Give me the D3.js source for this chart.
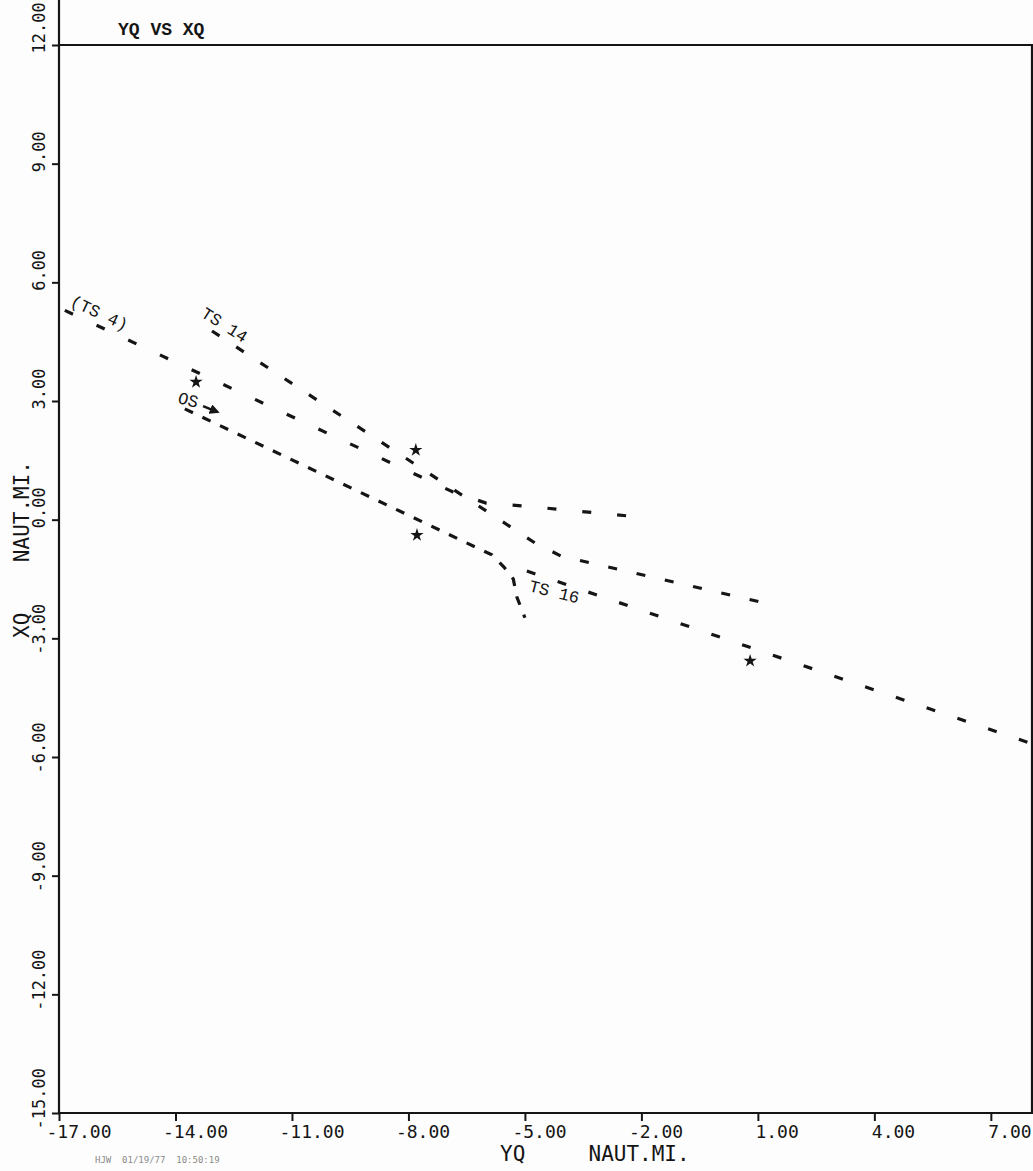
<!DOCTYPE html>
<html><head><meta charset="utf-8">
<script src="https://cdn.jsdelivr.net/npm/d3@7"></script>
<style>body{margin:0;background:#fff}svg{display:block}</style>
</head><body>
<script>
// ---- data (nautical miles) ----
const xTicks = [-17, -14, -11, -8, -5, -2, 1, 4, 7];
const yTicks = [-15, -12, -9, -6, -3, 0, 3, 6, 9, 12];
const trackTS4  = [[-16.85, 5.29], [-6.85, 0.70], [-6.00, 0.42], [-5.08, 0.35], [-2.30, 0.09]];
const trackTS14 = [[-13.06, 4.77], [-4.74, -0.59], [-4.07, -0.92], [-3.33, -1.09], [1.10, -2.09]];
const trackOS   = [[-13.76, 2.80], [-5.85, -0.89], [-5.54, -1.20], [-5.30, -1.50], [-5.21, -1.95], [-5.00, -2.48]];
const trackTS16 = [[-4.95, -1.30], [8.10, -5.68]];
const stars     = [[-13.47, 3.48], [-7.81, 1.76], [-7.78, -0.39], [0.80, -3.57]];
const annotations = [
  {text: "(TS 4)", x: -15.97, y: 5.20, angle: 25},
  {text: "TS 14",  x: -12.75, y: 4.90, angle: 32},
  {text: "TS 16",  x: -4.25,  y: -1.85, angle: 14},
  {text: "OS",     x: -13.68, y: 3.00, angle: 15}
];
const osArrow = [[-13.29, 2.87], [-12.91, 2.72]];
const title = "YQ VS XQ";
const xTitle = "YQ     NAUT.MI.";
const yTitle = "XQ    NAUT.MI.";
const footer = "HJW  01/19/77  10:50:19";

// ---- drawing ----
const W = 1033, H = 1171;
const svg = d3.select("body").append("svg").attr("width", W).attr("height", H);
svg.append("rect").attr("width", W).attr("height", H).attr("fill", "#fdfdfd");

const x = d3.scaleLinear().domain([-17, 8.06]).range([59, 1032]);
const y = d3.scaleLinear().domain([-15, 12]).range([1113, 45]);
const fmt = d => d.toFixed(2);
const tickFont = "'DejaVu Sans Mono', monospace";
const typeFont = "'Liberation Mono', 'Courier New', monospace";
const ink = "#151515";

// frame
const x0 = x(-17), x1 = x.range()[1], yTop = y(12), yBot = y(-15);
svg.append("path")
  .attr("d", `M${x0},0V${yBot}H${W}M${x0},${yTop}H${W}M${x1},${yTop}V${yBot}`)
  .attr("fill", "none").attr("stroke", ink).attr("stroke-width", 2.2);

// x axis
const gx = svg.append("g").attr("transform", `translate(0,${yBot})`)
  .call(d3.axisBottom(x).tickValues(xTicks).tickFormat(fmt).tickSize(8).tickSizeOuter(0));
gx.select(".domain").remove();
gx.selectAll(".tick line").attr("stroke", ink).attr("stroke-width", 2);
gx.selectAll(".tick text")
  .attr("font-family", tickFont).attr("font-size", 18).attr("fill", ink)
  .attr("text-anchor", "start")
  .attr("x", d => d < 0 ? -13 : -3).attr("y", 25).attr("dy", 0);

// y axis
const gy = svg.append("g").attr("transform", `translate(${x0},0)`)
  .call(d3.axisLeft(y).tickValues(yTicks).tickFormat(fmt).tickSize(7).tickSizeOuter(0));
gy.select(".domain").remove();
gy.selectAll(".tick line").attr("stroke", ink).attr("stroke-width", 2);
gy.selectAll(".tick text")
  .attr("font-family", tickFont).attr("font-size", 17).attr("fill", ink)
  .attr("text-anchor", "start").attr("x", 0).attr("y", 0).attr("dy", 0)
  .attr("transform", d => `translate(-14,${d < 0 ? 16 : 8}) rotate(-90)`);

// titles
svg.append("text").attr("x", 118).attr("y", 35).text(title)
  .attr("font-family", typeFont).attr("font-weight", "bold").attr("font-size", 18).attr("fill", ink);
svg.append("text").attr("x", 500).attr("y", 1161).text(xTitle)
  .style("white-space", "pre")
  .attr("font-family", tickFont).attr("font-size", 21).attr("fill", ink);
svg.append("text").attr("transform", "translate(29,638) rotate(-90)").text(yTitle)
  .style("white-space", "pre")
  .attr("font-family", tickFont).attr("font-size", 21).attr("fill", ink);
svg.append("text").attr("x", 95).attr("y", 1163).text(footer)
  .style("white-space", "pre")
  .attr("font-family", tickFont).attr("font-size", 9).attr("fill", "#8a8a8a");

// tracks (each plotted with its own dash rhythm)
const line = d3.line().x(d => x(d[0])).y(d => y(d[1]));
const tracks = [
  {pts: trackTS4,  dash: "9,26"},
  {pts: trackTS14, dash: "9,20"},
  {pts: trackOS,   dash: "9,10.5"},
  {pts: trackTS16, dash: "9,23.5"}
];
svg.append("g").selectAll("path").data(tracks).join("path")
  .attr("d", d => line(d.pts)).attr("fill", "none").attr("stroke", ink)
  .attr("stroke-width", 3.2).attr("stroke-dasharray", d => d.dash);

// stars
svg.append("g").selectAll("path").data(stars).join("path")
  .attr("transform", d => `translate(${x(d[0])},${y(d[1])})`)
  .attr("d", d3.symbol(d3.symbolStar, 55)).attr("fill", ink);

// annotations
svg.append("g").selectAll("text").data(annotations).join("text")
  .attr("transform", d => `translate(${x(d.x)},${y(d.y)}) rotate(${d.angle})`)
  .attr("text-anchor", "middle").attr("dominant-baseline", "central")
  .style("white-space", "pre")
  .attr("font-family", typeFont).attr("font-size", 17).attr("fill", ink)
  .text(d => d.text);

// OS arrow
const defs = svg.append("defs");
defs.append("marker").attr("id", "ah").attr("viewBox", "0 0 10 10").attr("refX", 8).attr("refY", 5)
  .attr("markerWidth", 4).attr("markerHeight", 4).attr("orient", "auto")
  .append("path").attr("d", "M0,0L10,5L0,10Z").attr("fill", ink);
svg.append("path").attr("d", line(osArrow)).attr("stroke", ink).attr("stroke-width", 2.5)
  .attr("fill", "none").attr("marker-end", "url(#ah)");
</script>
</body></html>
